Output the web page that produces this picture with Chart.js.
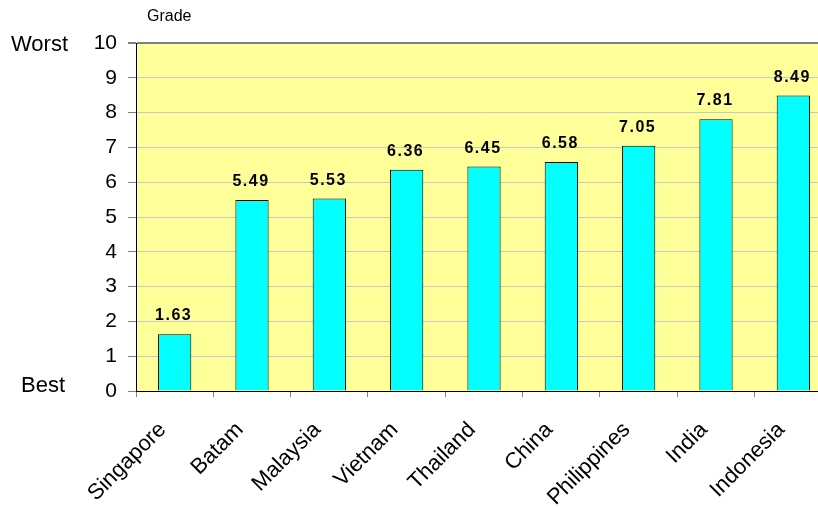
<!DOCTYPE html>
<html>
<head>
<meta charset="utf-8">
<script src="https://cdn.jsdelivr.net/npm/chart.js@4.4.1/dist/chart.umd.min.js"></script>
<style>
    html, body { margin: 0; padding: 0; background: #fff; overflow: hidden; }
    #wrap { width: 832px; height: 508px; }
</style>
</head>
<body>
<div id="wrap"><canvas id="gradeChart"></canvas></div>
<script>
const countries = ['Singapore', 'Batam', 'Malaysia', 'Vietnam', 'Thailand', 'China', 'Philippines', 'India', 'Indonesia'];
const grades = [1.63, 5.49, 5.53, 6.36, 6.45, 6.58, 7.05, 7.81, 8.49];
const yTicks = [0, 1, 2, 3, 4, 5, 6, 7, 8, 9, 10];

const FONT = "'Liberation Sans', Arial, sans-serif";

// yellow plot background
const plotBackground = {
    id: 'plotBackground',
    beforeDraw(chart) {
        const { ctx, chartArea: a } = chart;
        ctx.save();
        ctx.fillStyle = '#ffff99';
        ctx.fillRect(a.left, a.top, a.right - a.left, a.bottom - a.top);
        ctx.restore();
    }
};

// value above each bar + Grade / Worst / Best captions
const barLabels = {
    id: 'barLabels',
    afterDatasetsDraw(chart) {
        const { ctx } = chart;
        const meta = chart.getDatasetMeta(0);
        ctx.save();
        ctx.fillStyle = '#000';
        ctx.font = 'bold 16px ' + FONT;
        ctx.letterSpacing = '1.5px';
        ctx.textAlign = 'center';
        ctx.textBaseline = 'alphabetic';
        meta.data.forEach((bar, i) => {
            ctx.fillText(grades[i].toFixed(2), bar.x - 1, bar.y - 14);
        });
        ctx.letterSpacing = '0px';
        ctx.textAlign = 'left';
        ctx.font = '16px ' + FONT;
        ctx.fillText('Grade', 147, 21);
        ctx.font = '22px ' + FONT;
        const y = chart.scales.y;
        ctx.fillText('Worst', 11, y.getPixelForValue(10) + 8);
        ctx.fillText('Best', 21, y.getPixelForValue(0) + 1);
        ctx.restore();
    }
};

new Chart(document.getElementById('gradeChart'), {
    type: 'bar',
    data: {
        labels: countries,
        datasets: [{
            data: grades,
            backgroundColor: '#00ffff',
            borderColor: '#000',
            borderWidth: 1,
            barPercentage: 0.43,
            categoryPercentage: 1
        }]
    },
    options: {
        responsive: true,
        maintainAspectRatio: false,
        animation: false,
        layout: { padding: { top: 43, left: 0, right: 0, bottom: 0 } },
        plugins: {
            legend: { display: false },
            tooltip: { enabled: false }
        },
        scales: {
            x: {
                offset: true,
                grid: {
                    offset: true,
                    drawOnChartArea: false,
                    tickLength: 6,
                    tickColor: '#808080'
                },
                border: { color: '#000', width: 1 },
                ticks: {
                    color: '#000',
                    font: { family: FONT, size: 22 },
                    minRotation: 45,
                    maxRotation: 45,
                    padding: 20,
                    labelOffset: -12,
                    autoSkip: false
                },
                afterFit(scale) { scale.height = 117; }
            },
            y: {
                min: 0,
                max: 10,
                afterBuildTicks(scale) { scale.ticks = yTicks.map(v => ({ value: v })); },
                grid: {
                    color: ctx => (ctx.tick && ctx.tick.value === 10) ? '#7f7f7f' : '#c8c8c8',
                    lineWidth: ctx => (ctx.tick && ctx.tick.value === 10) ? 2 : 1,
                    tickLength: 8,
                    tickColor: '#808080'
                },
                border: { color: '#000', width: 1 },
                ticks: {
                    color: '#000',
                    font: { family: FONT, size: 21 },
                    padding: 11
                },
                afterFit(scale) { scale.width = 136; }
            }
        }
    },
    plugins: [plotBackground, barLabels]
});
</script>
</body>
</html>
